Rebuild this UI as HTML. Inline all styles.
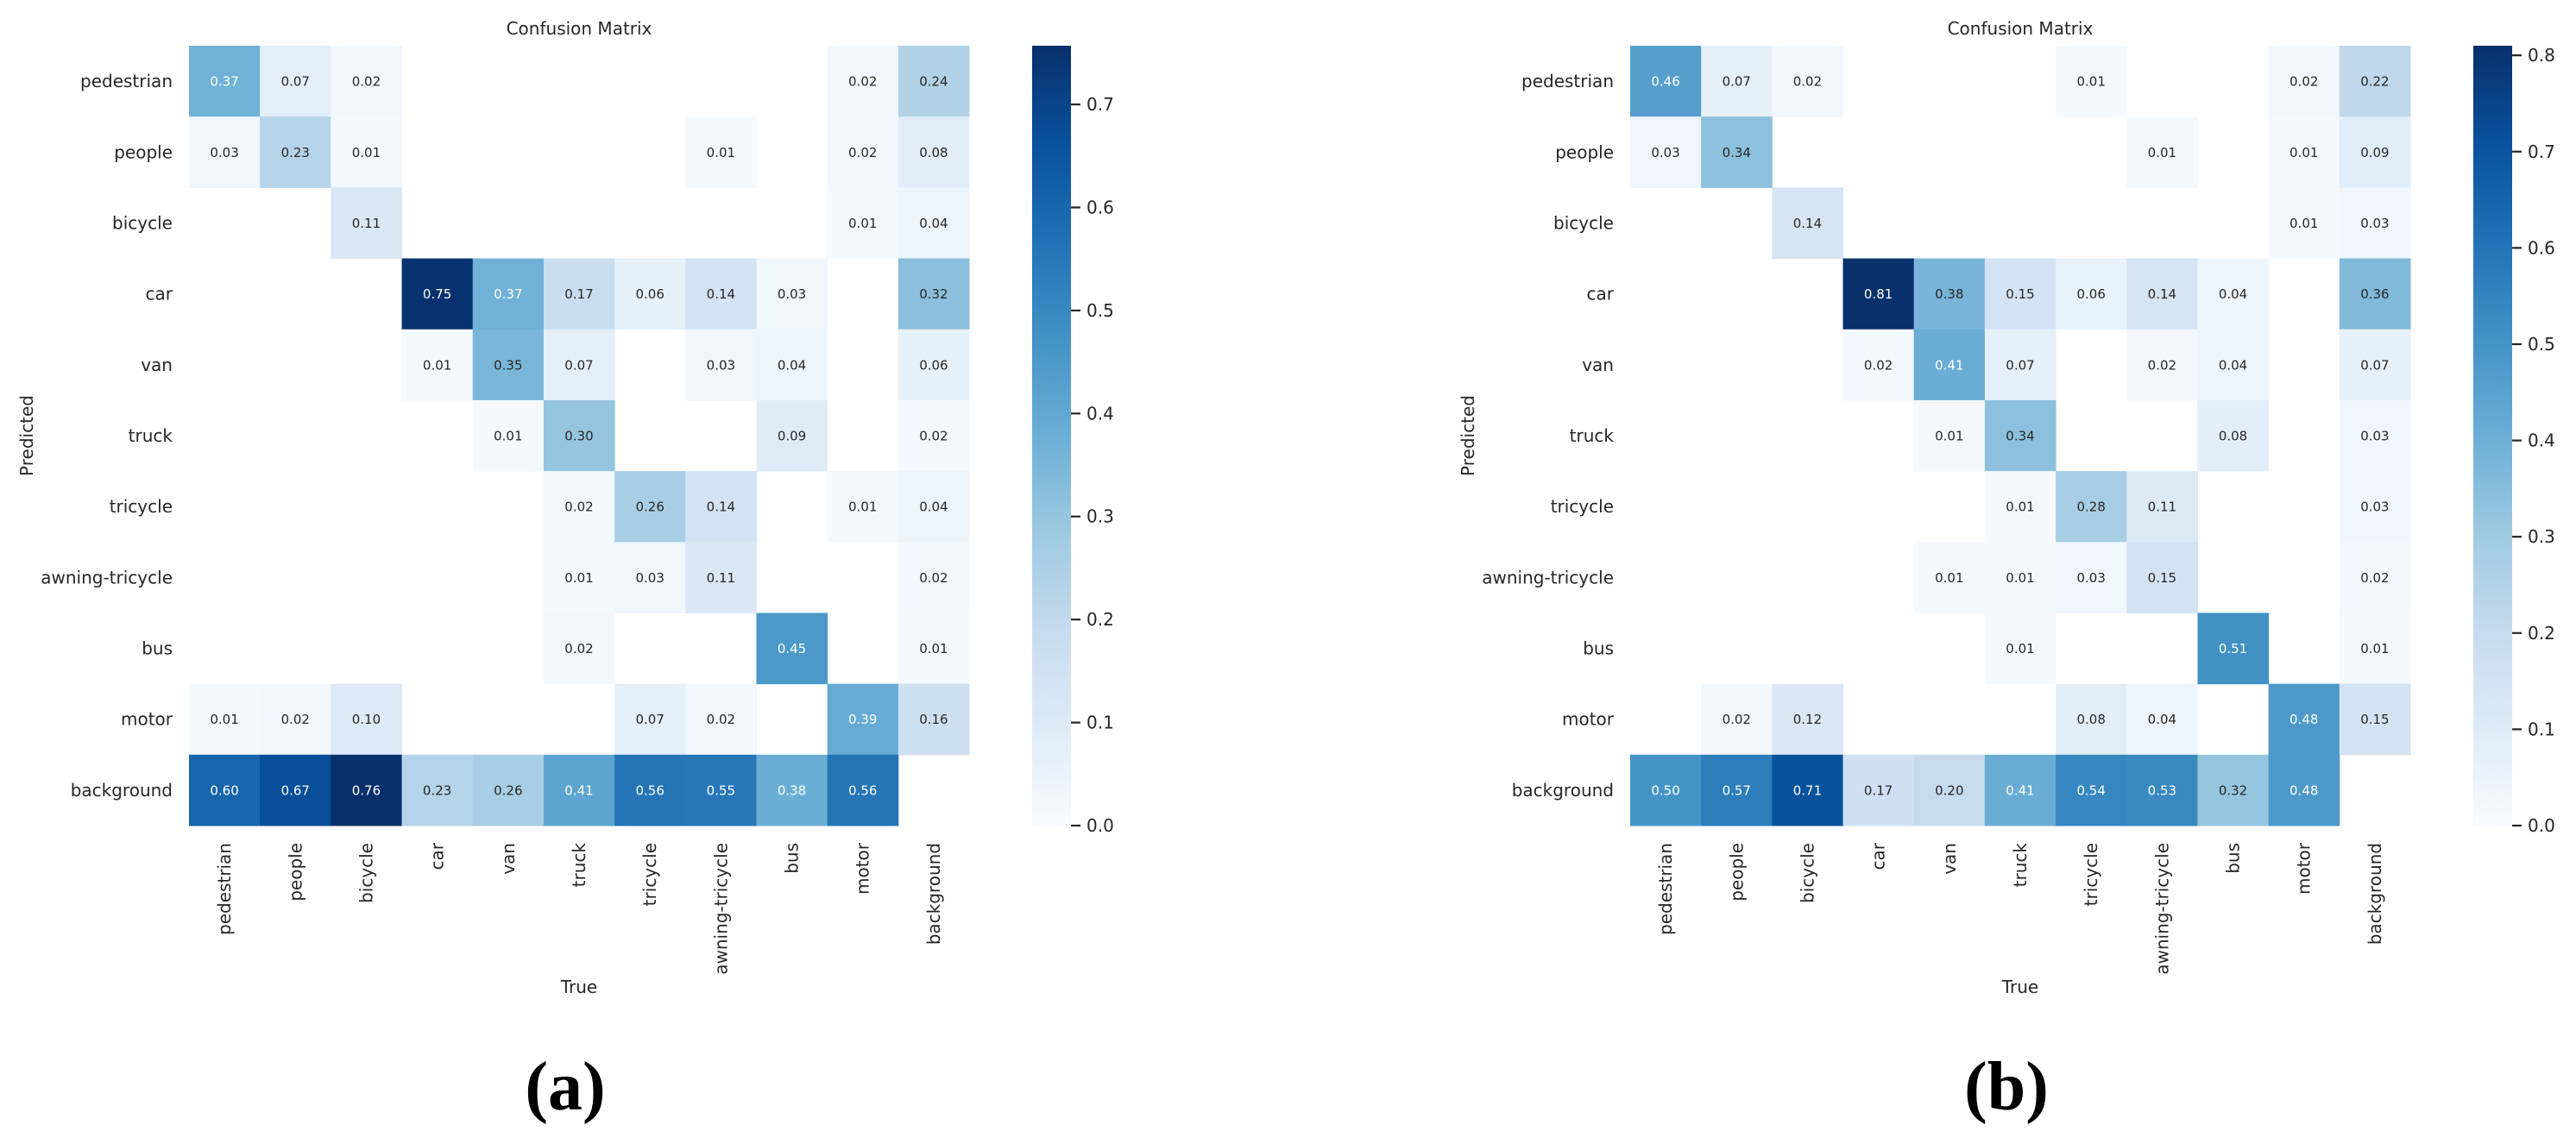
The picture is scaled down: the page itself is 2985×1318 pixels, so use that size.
<!DOCTYPE html>
<html><head><meta charset="utf-8"><style>
html,body{margin:0;padding:0;background:#fff;}
svg{display:block;font-family:"DejaVu Sans","Liberation Sans",sans-serif;}
</style></head><body>
<svg id="fig" width="2985" height="1318" viewBox="0 0 2985 1318" xmlns="http://www.w3.org/2000/svg">
<defs>
<linearGradient id="blues" x1="0" y1="1" x2="0" y2="0">
<stop offset="0" stop-color="#f7fbff"/><stop offset="0.125" stop-color="#deebf7"/><stop offset="0.25" stop-color="#c6dbef"/><stop offset="0.375" stop-color="#9ecae1"/><stop offset="0.5" stop-color="#6baed6"/><stop offset="0.625" stop-color="#4292c6"/><stop offset="0.75" stop-color="#2171b5"/><stop offset="0.875" stop-color="#08519c"/><stop offset="1" stop-color="#08306b"/>
</linearGradient>
</defs>
</svg>
<script>
const categories = ["pedestrian","people","bicycle","car","van","truck","tricycle","awning-tricycle","bus","motor","background"];
const valuesA = [
[.37,.07,.02,0,0,0,0,0,0,.02,.24],
[.03,.23,.01,0,0,0,0,.01,0,.02,.08],
[0,0,.11,0,0,0,0,0,0,.01,.04],
[0,0,0,.75,.37,.17,.06,.14,.03,0,.32],
[0,0,0,.01,.35,.07,0,.03,.04,0,.06],
[0,0,0,0,.01,.30,0,0,.09,0,.02],
[0,0,0,0,0,.02,.26,.14,0,.01,.04],
[0,0,0,0,0,.01,.03,.11,0,0,.02],
[0,0,0,0,0,.02,0,0,.45,0,.01],
[.01,.02,.10,0,0,0,.07,.02,0,.39,.16],
[.60,.67,.76,.23,.26,.41,.56,.55,.38,.56,0]];
const valuesB = [
[.46,.07,.02,0,0,0,.01,0,0,.02,.22],
[.03,.34,0,0,0,0,0,.01,0,.01,.09],
[0,0,.14,0,0,0,0,0,0,.01,.03],
[0,0,0,.81,.38,.15,.06,.14,.04,0,.36],
[0,0,0,.02,.41,.07,0,.02,.04,0,.07],
[0,0,0,0,.01,.34,0,0,.08,0,.03],
[0,0,0,0,0,.01,.28,.11,0,0,.03],
[0,0,0,0,.01,.01,.03,.15,0,0,.02],
[0,0,0,0,0,.01,0,0,.51,0,.01],
[0,.02,.12,0,0,0,.08,.04,0,.48,.15],
[.50,.57,.71,.17,.20,.41,.54,.53,.32,.48,0]];
const vmaxA = 0.757;
const vmaxB = 0.81;
const ticksA = [0,0.1,0.2,0.3,0.4,0.5,0.6,0.7];
const ticksB = [0,0.1,0.2,0.3,0.4,0.5,0.6,0.7,0.8];
const panelLabels = ["(a)","(b)"];

const NS = "http://www.w3.org/2000/svg";
const svg = document.getElementById("fig");
const stops = ["#f7fbff","#deebf7","#c6dbef","#9ecae1","#6baed6","#4292c6","#2171b5","#08519c","#08306b"].map(h=>[parseInt(h.slice(1,3),16),parseInt(h.slice(3,5),16),parseInt(h.slice(5,7),16)]);
function blues(t){t=Math.max(0,Math.min(1,t));const p=t*8;const i=Math.min(7,Math.floor(p));const f=p-i;
  return stops[i].map((c,k)=>Math.round(c+(stops[i+1][k]-c)*f));}
function lum(rgb){const c=rgb.map(v=>{v/=255;return v<=0.03928?v/12.92:Math.pow((v+0.055)/1.055,2.4);});return 0.2126*c[0]+0.7152*c[1]+0.0722*c[2];}
function el(tag,attrs,parent,text){const e=document.createElementNS(NS,tag);for(const k in attrs)e.setAttribute(k,attrs[k]);if(text!==undefined)e.textContent=text;(parent||svg).appendChild(e);return e;}

const TOP=53, SIZE=904, N=categories.length, CELL=SIZE/N;
function drawPanel(vals, vmax, ticks, gx, cbx, label, id){
  const g=el("g",{});
  
  
  const xs=c=>gx+c*CELL, ys=r=>TOP+r*CELL;
  for(let r=0;r<N;r++)for(let c=0;c<N;c++){
    const v=vals[r][c]; if(v<=0) continue;
    const rgb=blues(v/vmax);
    const rc=el("rect",{x:xs(c),y:ys(r),width:CELL+0.5,height:CELL+0.5,fill:`rgb(${rgb})`},g);
    
    
    const t=el("text",{x:xs(c)+CELL/2,y:ys(r)+CELL/2+5.5,"text-anchor":"middle","font-size":"15",fill:lum(rgb)<0.408?"#ffffff":"#262626"},g,v.toFixed(2));
    
    
  }
  for(let i=0;i<N;i++){
    const yl=el("text",{x:gx-19,y:ys(i)+CELL/2+7,"text-anchor":"end","font-size":"20",fill:"#262626"},g,categories[i]);
    
    
    const xl=el("text",{transform:`translate(${xs(i)+CELL/2+7},${TOP+SIZE+20}) rotate(-90)`,"text-anchor":"end","font-size":"20",fill:"#262626"},g,categories[i]);
    
    
  }
  const cx=gx+SIZE/2;
  const ti=el("text",{x:cx,y:40,"text-anchor":"middle","font-size":"20",fill:"#262626"},g,"Confusion Matrix");
  
  
  const xt=el("text",{x:cx,y:1151,"text-anchor":"middle","font-size":"20",fill:"#262626"},g,"True");
  
  
  const yt=el("text",{transform:`translate(${gx-181},${TOP+SIZE/2}) rotate(-90)`,"text-anchor":"middle","font-size":"20",fill:"#262626"},g,"Predicted");
  
  
  const cb=el("rect",{x:cbx,y:TOP,width:45,height:SIZE,fill:"url(#blues)"},g);
  
  
  const cy=v=>TOP+SIZE-(v/vmax)*SIZE;
  ticks.forEach(tv=>{
    const y=cy(tv);
    el("line",{x1:cbx+45,x2:cbx+56,y1:y,y2:y,stroke:"#262626","stroke-width":"2.2"},g);
    const tl=el("text",{x:cbx+63,y:y+7,"font-size":"20",fill:"#262626"},g,tv.toFixed(1));
    
    
  });
  const pl=el("text",{x:cx-16,y:1286,"text-anchor":"middle","font-size":"80","font-weight":"bold","font-family":"Liberation Serif, serif",fill:"#000"},g,label);
  
  
}
drawPanel(valuesA, vmaxA, ticksA, 219, 1196, panelLabels[0], "a");
drawPanel(valuesB, vmaxB, ticksB, 1889, 2866, panelLabels[1], "b");
</script>
</body></html>
